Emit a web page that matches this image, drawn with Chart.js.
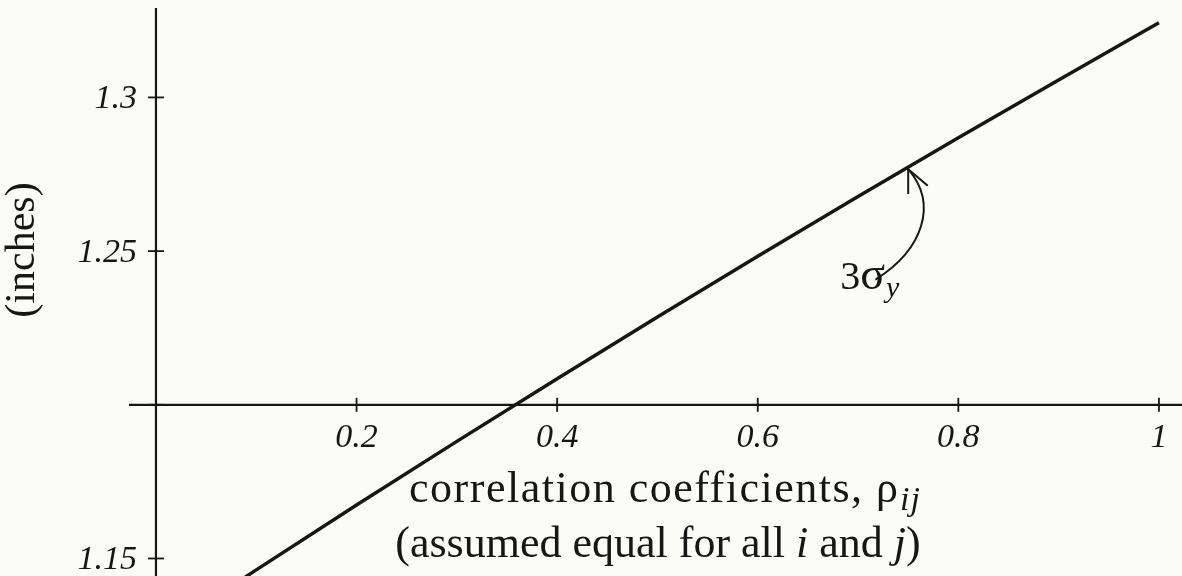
<!DOCTYPE html>
<html>
<head>
<meta charset="utf-8">
<script src="https://cdn.jsdelivr.net/npm/chart.js@4.4.0/dist/chart.umd.min.js"></script>
<style>
  html, body { margin: 0; padding: 0; background: #fbfbf7; }
  #wrap { position: relative; width: 1182px; height: 576px; }
</style>
</head>
<body>
<div id="wrap"><canvas id="sigmaChart"></canvas></div>
<script>
// === Data ===
const rho = [0.05, 0.1, 0.2, 0.3, 0.4, 0.5, 0.6, 0.7, 0.8, 0.9, 1.0];
const sigma3 = [1.1355, 1.1463, 1.1674, 1.1881, 1.2085, 1.2286, 1.2483, 1.2678, 1.2869, 1.3057, 1.3243];

const xTicks = [0.2, 0.4, 0.6, 0.8, 1];
const xTickLabels = ['0.2', '0.4', '0.6', '0.8', '1'];
const yTicks = [1.15, 1.2, 1.25, 1.3];
const yTickLabels = ['1.15', '', '1.25', '1.3'];

const xAxisAt = 1.2;   // horizontal axis crosses here
const yAxisAt = 0;     // vertical axis crosses here
const arrowRho = 0.75;
const arrowValue = 1.2773;

const INK = '#161616';
const SERIF = '"Liberation Serif", serif';
const TICK_FONT = 'italic 34px ' + SERIF;
const TITLE_FONT = '44px ' + SERIF;
const TITLE_ITALIC = 'italic 44px ' + SERIF;

// draw a run of [text, font, dy, spacing] pieces centred on cx
function drawRun(ctx, parts, cx, baseY) {
    let total = 0;
    parts.forEach(([t, f, dy, sp]) => {
        ctx.font = f;
        ctx.letterSpacing = sp || '0px';
        total += ctx.measureText(t).width;
    });
    let px = cx - total / 2;
    parts.forEach(([t, f, dy, sp]) => {
        ctx.font = f;
        ctx.letterSpacing = sp || '0px';
        ctx.fillText(t, px, baseY + (dy || 0));
        px += ctx.measureText(t).width;
    });
    ctx.letterSpacing = '0px';
}

// === Axes, ticks, titles ===
const axesPlugin = {
    id: 'crossAxes',
    beforeDatasetsDraw(chart) {
        const { ctx, scales: { x, y } } = chart;
        const x0 = x.getPixelForValue(yAxisAt);
        const y0 = y.getPixelForValue(xAxisAt);

        ctx.save();
        ctx.strokeStyle = INK;
        ctx.lineWidth = 2.2;

        // vertical axis
        ctx.beginPath();
        ctx.moveTo(x0, 8);
        ctx.lineTo(x0, chart.height);
        ctx.stroke();

        // horizontal axis
        ctx.beginPath();
        ctx.moveTo(x0 - 27, y0);
        ctx.lineTo(chart.width, y0);
        ctx.stroke();

        // cross ticks
        ctx.lineWidth = 1.8;
        xTicks.forEach(v => {
            const px = x.getPixelForValue(v);
            ctx.beginPath();
            ctx.moveTo(px, y0 - 7);
            ctx.lineTo(px, y0 + 7);
            ctx.stroke();
        });
        yTicks.forEach(v => {
            const py = y.getPixelForValue(v);
            ctx.beginPath();
            ctx.moveTo(x0 - 8, py);
            ctx.lineTo(x0 + 8, py);
            ctx.stroke();
        });

        // tick labels
        ctx.fillStyle = INK;
        ctx.font = TICK_FONT;
        ctx.textAlign = 'center';
        ctx.textBaseline = 'alphabetic';
        xTicks.forEach((v, i) => {
            ctx.fillText(xTickLabels[i], x.getPixelForValue(v), y0 + 42);
        });
        ctx.textAlign = 'right';
        yTicks.forEach((v, i) => {
            if (!yTickLabels[i]) return;
            ctx.fillText(yTickLabels[i], x0 - 19, y.getPixelForValue(v) + 11);
        });

        // x title, two lines
        ctx.textAlign = 'left';
        drawRun(ctx, [
            ['correlation coefficients, ', TITLE_FONT, 0, '1.5px'],
            ['ρ', TITLE_FONT],
            [' ', 'italic 8px ' + SERIF],
            ['ij', 'italic 34px ' + SERIF, 8, '1px']
        ], 665, 502);
        drawRun(ctx, [
            ['(assumed equal for all ', TITLE_FONT],
            ['i', TITLE_ITALIC],
            [' and ', TITLE_FONT],
            ['j', TITLE_ITALIC],
            [')', TITLE_FONT]
        ], 658, 557);

        // y title
        ctx.save();
        ctx.translate(34, 250);
        ctx.rotate(-Math.PI / 2);
        ctx.font = '42px ' + SERIF;
        ctx.textAlign = 'center';
        ctx.fillText('(inches)', 0, 0);
        ctx.restore();

        ctx.restore();
    },
    afterDatasetsDraw(chart) {
        // 3σy callout with a curved arrow onto the line
        const { ctx, scales: { x, y } } = chart;
        const tx = x.getPixelForValue(arrowRho);
        const ty = y.getPixelForValue(arrowValue) + 2;

        ctx.save();
        ctx.strokeStyle = INK;
        ctx.lineWidth = 2;
        ctx.lineCap = 'round';
        ctx.beginPath();
        ctx.moveTo(tx - 32, ty + 110);
        ctx.bezierCurveTo(tx + 15, ty + 80, tx + 30, ty + 35, tx, ty);
        ctx.stroke();
        ctx.beginPath();
        ctx.moveTo(tx + 19, ty + 16);
        ctx.lineTo(tx, ty);
        ctx.lineTo(tx, ty + 24);
        ctx.stroke();

        ctx.fillStyle = INK;
        ctx.textAlign = 'left';
        const bx = tx - 68;
        const by = ty + 120;
        ctx.font = '40px ' + SERIF;
        ctx.fillText('3', bx, by);
        let w = ctx.measureText('3').width;
        ctx.font = '46px ' + SERIF;
        ctx.fillText('σ', bx + w, by);
        w += ctx.measureText('σ').width;
        ctx.font = 'italic 30px ' + SERIF;
        ctx.fillText('y', bx + w + 1, by + 8);
        ctx.restore();
    }
};

// === Chart ===
const ctx = document.getElementById('sigmaChart').getContext('2d');
new Chart(ctx, {
    type: 'line',
    data: {
        datasets: [{
            data: rho.map((r, i) => ({ x: r, y: sigma3[i] })),
            borderColor: INK,
            borderWidth: 3.5,
            pointRadius: 0,
            cubicInterpolationMode: 'monotone',
            fill: false
        }]
    },
    options: {
        responsive: true,
        maintainAspectRatio: false,
        animation: false,
        layout: { padding: 0 },
        scales: {
            x: { type: 'linear', display: false, min: -0.1555, max: 1.023 },
            y: { type: 'linear', display: false, min: 1.1443, max: 1.3317 }
        },
        plugins: {
            legend: { display: false },
            tooltip: { enabled: false }
        }
    },
    plugins: [axesPlugin]
});
</script>
</body>
</html>
